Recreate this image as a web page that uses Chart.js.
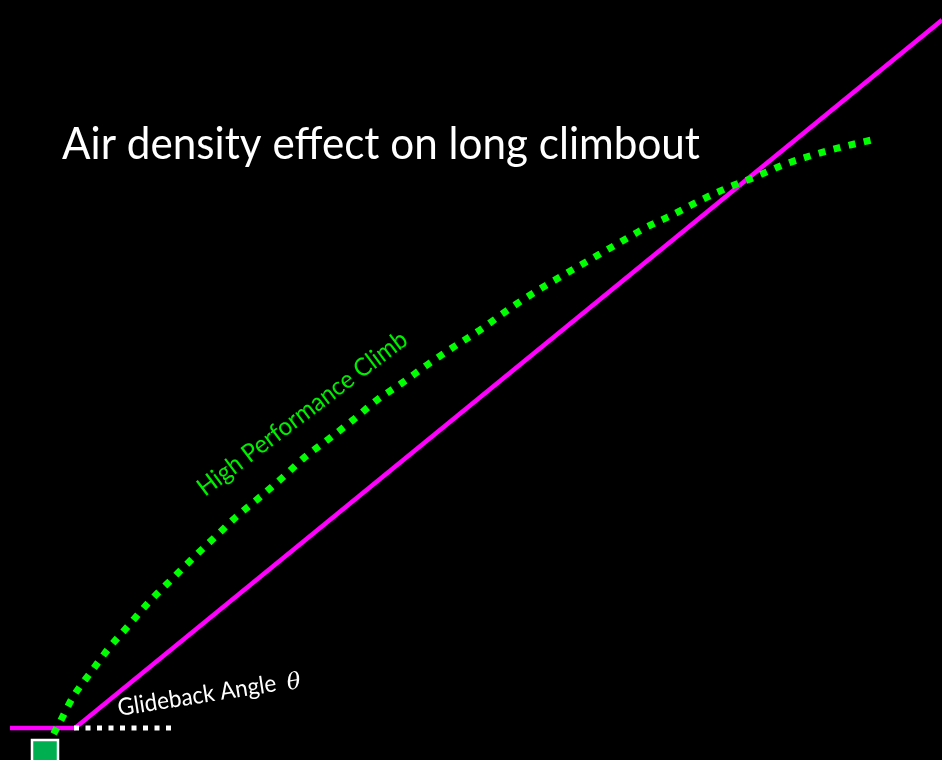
<!DOCTYPE html>
<html>
<head>
<meta charset="utf-8">
<script src="https://cdn.jsdelivr.net/npm/chart.js@4/dist/chart.umd.min.js"></script>
<style>
html,body{margin:0;padding:0;background:#000;}
#wrap{position:relative;width:942px;height:760px;background:#000;}
</style>
</head>
<body>
<div id="wrap"><canvas id="c"></canvas></div>
<script>
// Horizontal distance (px-like units) and height above the bottom edge
const climbX = [47, 52, 60, 73, 91, 109, 129, 149, 171, 192, 214, 236, 260, 282, 305, 330, 353, 377, 402, 427, 452, 477, 515, 540, 567, 593, 619, 645, 672, 699, 727, 755, 783, 813, 842, 876];
const climbY = [12, 23, 38, 63, 88, 112, 135, 158, 180, 201, 222, 243, 263, 282, 303, 322, 340, 360, 377, 395, 412, 428, 455, 471, 487, 502, 517, 532, 545, 559, 572, 583, 595, 605, 613, 621];

const glideX = [10, 75, 942];
const glideY = [32, 32, 740];

const refX = [74, 176];
const refY = [32, 32];

const startX = [45];
const startY = [7];

const titleText = "Air density effect on long climbout";
const climbLabel = "High Performance Climb";
const glideLabel = "Glideback Angle ";
const thetaLabel = "θ";

const zip = (xs, ys) => xs.map((x, i) => ({x: x, y: ys[i]}));

const textPlugin = {
  id: 'texts',
  afterDatasetsDraw(chart) {
    const ctx = chart.ctx;
    function put(text, font, color, x, y, angleDeg, targetW) {
      ctx.save();
      ctx.font = font;
      ctx.fillStyle = color;
      ctx.textBaseline = 'alphabetic';
      ctx.textAlign = 'left';
      const w = ctx.measureText(text).width;
      ctx.translate(x, y);
      ctx.rotate(angleDeg * Math.PI / 180);
      if (targetW) ctx.scale(targetW / w, 1);
      ctx.fillText(text, 0, 0);
      ctx.restore();
    }
    put(titleText, '44px Lato', '#ffffff', 62, 159, 0, 638);
    put(climbLabel, '25px Lato', '#00ee00', 205, 497, -37, 256);
    put(glideLabel, '24px Lato', '#ffffff', 119, 716, -9, 166);
    put(thetaLabel, 'italic 23px "DejaVu Serif"', '#ffffff', 288, 690, -9, 0);
  }
};

new Chart(document.getElementById('c'), {
  type: 'line',
  data: {
    datasets: [
      {
        label: 'start',
        data: zip(startX, startY),
        showLine: false,
        pointStyle: 'rect',
        pointRadius: 18.4,
        pointBackgroundColor: '#00b050',
        pointBorderColor: '#ffffff',
        pointBorderWidth: 2.5,
        order: 0
      },
      {
        label: 'High Performance Climb',
        data: zip(climbX, climbY),
        borderColor: '#00ff00',
        borderWidth: 7,
        borderDash: [7, 8.5],
        borderCapStyle: 'butt',
        cubicInterpolationMode: 'monotone',
        pointRadius: 0,
        fill: false,
        order: 1
      },
      {
        label: 'reference',
        data: zip(refX, refY),
        borderColor: '#ffffff',
        borderWidth: 5,
        borderDash: [5, 6.5],
        borderCapStyle: 'butt',
        pointRadius: 0,
        fill: false,
        order: 2
      },
      {
        label: 'Glideback',
        data: zip(glideX, glideY),
        borderColor: '#ff00ff',
        borderWidth: 4.5,
        tension: 0,
        pointRadius: 0,
        fill: false,
        order: 3
      }
    ]
  },
  options: {
    responsive: true,
    maintainAspectRatio: false,
    animation: false,
    events: [],
    layout: {padding: 0, autoPadding: false},
    plugins: {legend: {display: false}, tooltip: {enabled: false}, title: {display: false}},
    scales: {
      x: {type: 'linear', min: 0, max: 942, display: false},
      y: {type: 'linear', min: 0, max: 760, display: false}
    }
  },
  plugins: [textPlugin]
});
</script>
</body>
</html>
